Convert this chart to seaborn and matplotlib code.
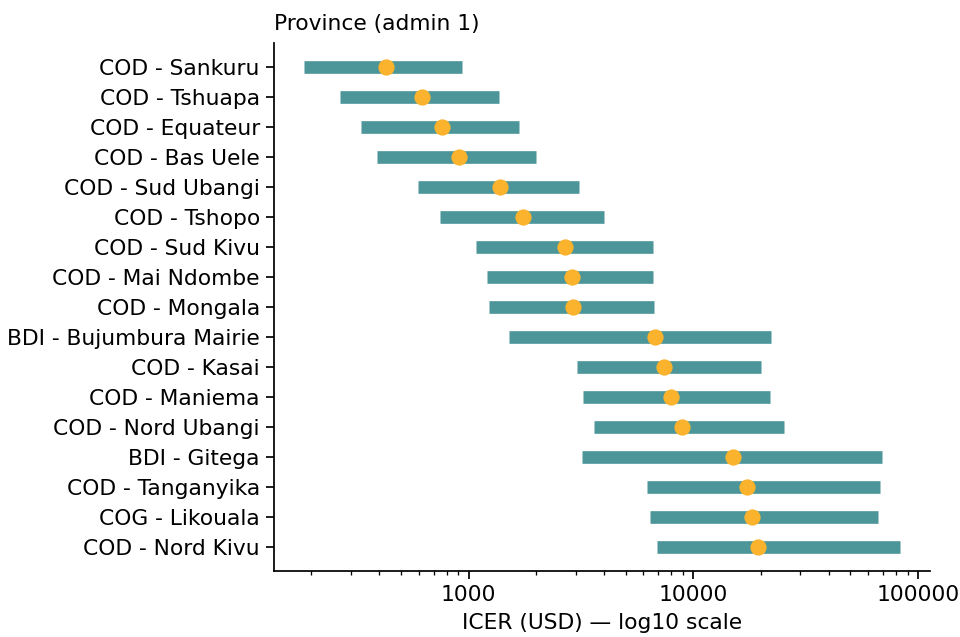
import matplotlib
matplotlib.use("Agg")
import matplotlib.pyplot as plt
from matplotlib.ticker import FuncFormatter, NullFormatter
import numpy as np
import pandas as pd
import seaborn as sns

provinces = [
    "COD - Sankuru", "COD - Tshuapa", "COD - Equateur", "COD - Bas Uele",
    "COD - Sud Ubangi", "COD - Tshopo", "COD - Sud Kivu", "COD - Mai Ndombe",
    "COD - Mongala", "BDI - Bujumbura Mairie", "COD - Kasai", "COD - Maniema",
    "COD - Nord Ubangi", "BDI - Gitega", "COD - Tanganyika", "COG - Likouala",
    "COD - Nord Kivu",
]
icer_low = [185, 269, 331, 392, 593, 747, 1078, 1210, 1231, 1516,
            3025, 3236, 3622, 3184, 6234, 6411, 6908]
icer_high = [937, 1364, 1680, 1993, 3106, 4000, 6590, 6590, 6699, 22150,
             20060, 21990, 25300, 68870, 67690, 66300, 83340]
icer_point = [431, 624, 766, 908, 1378, 1750, 2683, 2873, 2920, 6726,
              7423, 7925, 8925, 15050, 17270, 18180, 19450]

df = pd.DataFrame({
    "province": provinces,
    "low": icer_low,
    "high": icer_high,
    "icer": icer_point,
})
df["pos"] = np.arange(len(df))

plt.rcParams.update({
    "font.size": 11.5,
    "xtick.major.size": 4.0,
    "xtick.minor.size": 2.3,
    "ytick.major.size": 4.0,
    "xtick.major.width": 0.92,
    "xtick.minor.width": 0.7,
    "ytick.major.width": 0.92,
    "axes.linewidth": 0.92,
})

DPI = 136
fig, ax = plt.subplots(figsize=(960 / DPI, 637 / DPI), dpi=DPI)
fig.subplots_adjust(left=0.2854, right=0.9688, top=0.9325, bottom=0.1036)

# uncertainty range per province
ax.hlines(df["pos"], df["low"], df["high"], color="#4c9599", linewidth=6.7,
          zorder=1)
# central estimate
sns.scatterplot(data=df, x="icer", y="pos", ax=ax, color="#fbb22c", s=74,
                linewidth=0, zorder=3, legend=False)

ax.set_xscale("log")
ax.set_yticks(df["pos"])
ax.set_yticklabels(df["province"])
ax.invert_yaxis()
ax.xaxis.set_major_formatter(FuncFormatter(lambda v, _: f"{v:.0f}"))
ax.xaxis.set_minor_formatter(NullFormatter())

ax.set_xlabel("ICER (USD) — log10 scale")
ax.set_ylabel("")
ax.set_title("Province (admin 1)", loc="left", pad=7, fontsize=11.5)
sns.despine(ax=ax)

fig.savefig("out.png", dpi=DPI)
